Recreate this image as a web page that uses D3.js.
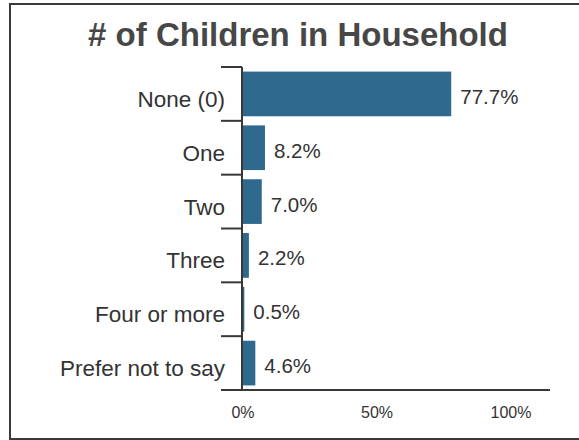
<!DOCTYPE html>
<html>
<head>
<meta charset="utf-8">
<script src="https://cdn.jsdelivr.net/npm/d3@7"></script>
<style>
  html, body { margin: 0; padding: 0; background: #fff; }
  svg { display: block; font-family: "Liberation Sans", Arial, sans-serif; }
</style>
</head>
<body>
<svg id="mainsvg" width="579" height="440"></svg>
<script>
const title = '# of Children in Household';
const categories = ['None (0)', 'One', 'Two', 'Three', 'Four or more', 'Prefer not to say'];
const values = [77.7, 8.2, 7.0, 2.2, 0.5, 4.6];
const xTicks = [0, 50, 100];

const barColor = '#2f6a8e';
const axisColor = '#383838';
const textColor = '#333';

const svg = d3.select('#mainsvg');
const width = +svg.attr('width');
const height = +svg.attr('height');

// frame (right side runs off the picture)
svg.append('rect')
  .attr('x', 10).attr('y', 4)
  .attr('width', 620).attr('height', 435)
  .attr('fill', 'none')
  .attr('stroke', '#3a3a3a')
  .attr('stroke-width', 2);

svg.append('text').text(title)
  .attr('x', 298).attr('y', 46)
  .attr('text-anchor', 'middle')
  .attr('font-size', 33)
  .attr('font-weight', 'bold')
  .attr('fill', '#474747');

const margin = { top: 67, left: 242, bottom: 50 };
const plotBottom = 390;

const xScale = d3.scaleLinear()
  .domain([0, 100])
  .range([243, 511]);

const yScale = d3.scaleBand()
  .domain(categories)
  .range([margin.top, plotBottom])
  .paddingInner(0.17)
  .paddingOuter(0.085);

// band edges for the tick marks on the category axis
const step = (plotBottom - margin.top) / categories.length;
const edges = d3.range(categories.length + 1).map(i => margin.top + i * step);

const g = svg.append('g');

g.selectAll('line.tick')
  .data(edges)
  .join('line')
  .attr('class', 'tick')
  .attr('x1', 221).attr('x2', margin.left)
  .attr('y1', d => d).attr('y2', d => d)
  .attr('stroke', axisColor)
  .attr('stroke-width', 2);

g.selectAll('rect.bar')
  .data(values)
  .join('rect')
  .attr('class', 'bar')
  .attr('x', xScale(0))
  .attr('y', (d, i) => yScale(categories[i]))
  .attr('width', d => xScale(d) - xScale(0))
  .attr('height', yScale.bandwidth())
  .attr('fill', barColor);

// axis lines
g.append('line')
  .attr('x1', margin.left).attr('x2', margin.left)
  .attr('y1', margin.top).attr('y2', plotBottom)
  .attr('stroke', axisColor).attr('stroke-width', 2);
g.append('line')
  .attr('x1', 221).attr('x2', 550)
  .attr('y1', plotBottom).attr('y2', plotBottom)
  .attr('stroke', axisColor).attr('stroke-width', 2);

// category labels
g.selectAll('text.cat')
  .data(categories)
  .join('text')
  .attr('class', 'cat')
  .text(d => d)
  .attr('x', 225)
  .attr('y', d => yScale(d) + yScale.bandwidth() / 2 + 13)
  .attr('text-anchor', 'end')
  .attr('font-size', 22.5)
  .attr('fill', textColor);

// value labels
g.selectAll('text.val')
  .data(values)
  .join('text')
  .attr('class', 'val')
  .text(d => d.toFixed(1) + '%')
  .attr('x', d => xScale(d) + 9)
  .attr('y', (d, i) => yScale(categories[i]) + yScale.bandwidth() / 2 + 10)
  .attr('font-size', 20.5)
  .attr('fill', textColor);

// x tick labels
g.selectAll('text.xt')
  .data(xTicks)
  .join('text')
  .attr('class', 'xt')
  .text(d => d + '%')
  .attr('x', d => xScale(d))
  .attr('y', 418)
  .attr('text-anchor', 'middle')
  .attr('font-size', 16)
  .attr('fill', textColor);
</script>
</body>
</html>
